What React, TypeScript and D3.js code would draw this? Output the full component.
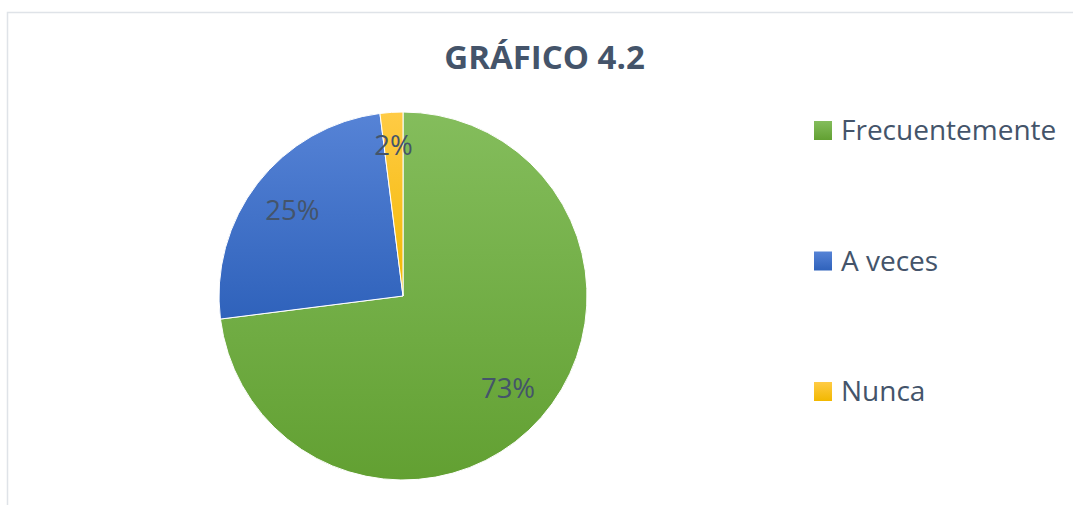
import React from "react";
import * as d3 from "d3";

const categories = ["Frecuentemente", "A veces", "Nunca"];
const values = [73, 25, 2];
const labels = ["73%", "25%", "2%"];
const colorsTop = ["#84bd5c", "#5683d6", "#ffcb45"];
const colorsBottom = ["#62a032", "#2f62bb", "#f2b800"];

const W = 1073;
const H = 505;
const cx = 403;
const cy = 296;
const R = 184;

export default function App() {
  const pie = d3.pie<number>().sort(null).value((d) => d);
  const arcs = pie(values);
  const arc = d3.arc<d3.PieArcDatum<number>>().innerRadius(0).outerRadius(R);
  const labelArc = (d: d3.PieArcDatum<number>) => {
    const span = d.endAngle - d.startAngle;
    const r = span < 0.3 ? 151 : 140;
    const a = (d.startAngle + d.endAngle) / 2;
    return [Math.sin(a) * r, -Math.cos(a) * r];
  };
  const legendY = d3.scalePoint<string>().domain(categories).range([130.5, 391.5]);
  const font = "'Open Sans', sans-serif";
  return (
    <svg width={W} height={H} style={{ position: "absolute", left: 0, top: 0 }}>
      <defs>
        {categories.map((c, i) => (
          <linearGradient key={c} id={`g${i}`} x1="0" y1="0" x2="0" y2="1">
            <stop offset="0" stopColor={colorsTop[i]} />
            <stop offset="1" stopColor={colorsBottom[i]} />
          </linearGradient>
        ))}
      </defs>
      <rect x={0} y={0} width={W} height={H} fill="#fff" />
      <path d={`M7.5,${H} V12.5 H${W}`} fill="none" stroke="#dfe3e8" strokeWidth={1.5} />
      <text x={544.5} y={69} textAnchor="middle" fontFamily={font} fontWeight="bold" fontSize={33} fill="#44546a">
        GRÁFICO 4.2
      </text>
      <g transform={`translate(${cx},${cy})`}>
        {arcs.map((d, i) => (
          <path key={i} d={arc(d) || ""} fill={`url(#g${i})`} stroke="#fff" strokeWidth={1} />
        ))}
        {arcs.map((d, i) => {
          const [x, y] = labelArc(d);
          return (
            <text key={i} x={x} y={y} dy="0.35em" textAnchor="middle" fontFamily={font} fontSize={27.5} fill="#44546a">
              {labels[i]}
            </text>
          );
        })}
      </g>
      {categories.map((c, i) => {
        const y = legendY(c) as number;
        return (
          <g key={c}>
            <rect x={814} y={y - 9.5} width={18} height={19} fill={`url(#g${i})`} />
            <text x={841} y={y} dy="0.35em" fontFamily={font} fontSize={28} fill="#44546a">
              {c}
            </text>
          </g>
        );
      })}
    </svg>
  );
}
